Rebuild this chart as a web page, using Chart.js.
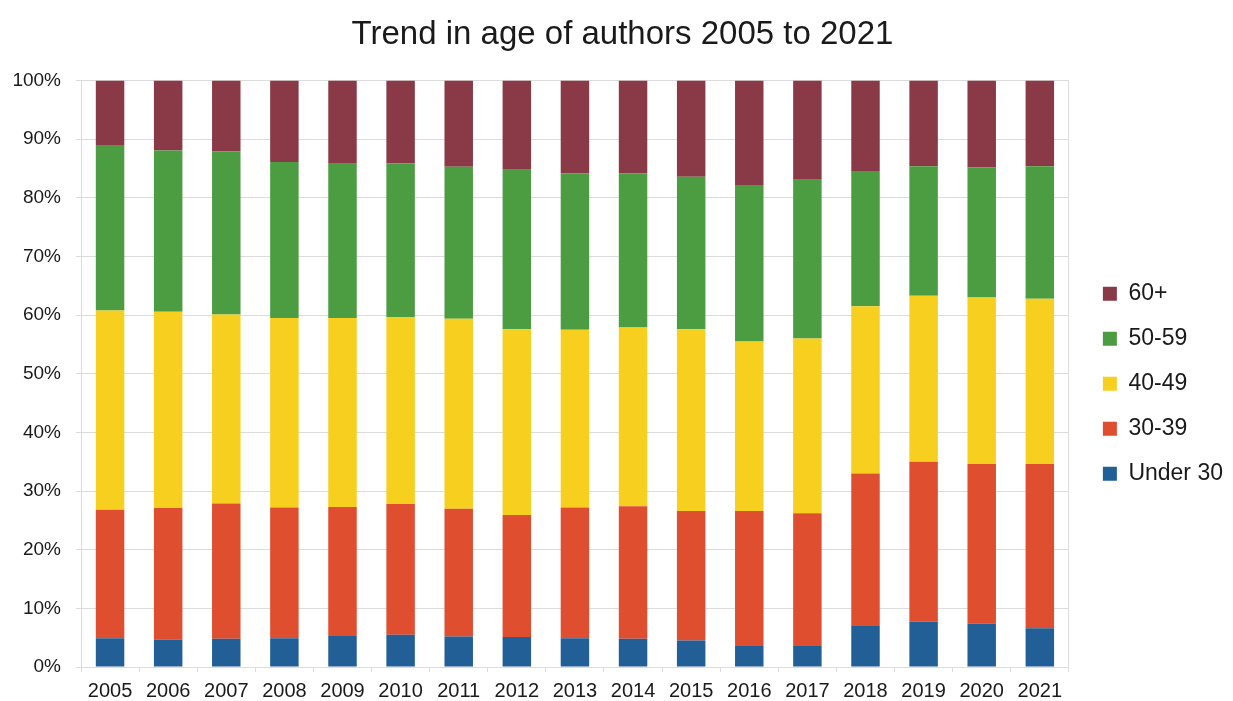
<!DOCTYPE html>
<html>
<head>
<meta charset="utf-8">
<title>Trend in age of authors 2005 to 2021</title>
<script src="https://cdn.jsdelivr.net/npm/chart.js@4.4.1/dist/chart.umd.min.js"></script>
<style>
  html, body { margin: 0; padding: 0; background: #ffffff; }
  #panel-chart { position: relative; width: 1233px; height: 701px; }
</style>
</head>
<body>
<div id="panel-chart"><canvas id="ageChart"></canvas></div>
<script>
// share of authors in each age band, per year (%)
const years = ['2005', '2006', '2007', '2008', '2009', '2010', '2011', '2012', '2013',
               '2014', '2015', '2016', '2017', '2018', '2019', '2020', '2021'];
const under30 = [4.9, 4.7, 4.8, 4.9, 5.3, 5.5, 5.2, 5.1, 4.9, 4.8, 4.5, 3.6, 3.6, 7.0, 7.7, 7.4, 6.6];
const age30to39 = [21.9, 22.4, 23.1, 22.3, 22.0, 22.3, 21.8, 20.8, 22.3, 22.6, 22.1, 23.0, 22.6, 26.0, 27.3, 27.2, 28.0];
const age40to49 = [34.0, 33.5, 32.2, 32.3, 32.2, 31.9, 32.4, 31.7, 30.3, 30.5, 31.0, 28.9, 29.8, 28.5, 28.3, 28.4, 28.2];
const age50to59 = [28.2, 27.5, 27.8, 26.6, 26.3, 26.2, 25.9, 27.2, 26.7, 26.3, 26.0, 26.7, 27.1, 23.1, 22.1, 22.2, 22.6];
const age60plus = [11.0, 11.9, 12.1, 13.9, 14.2, 14.1, 14.7, 15.2, 15.8, 15.8, 16.4, 17.8, 16.9, 15.4, 14.6, 14.8, 14.6];
const yTicks = [0, 10, 20, 30, 40, 50, 60, 70, 80, 90, 100];

const FONT_FAMILY = '"Liberation Sans", Arial, Helvetica, sans-serif';
const GRID_COLOR = '#dcdcdc';
const TEXT_COLOR = '#1a1a1a';

const COLOR_UNDER_30 = '#225f96';
const COLOR_30_39 = '#e04e30';
const COLOR_40_49 = '#f7cf1f';
const COLOR_50_59 = '#4c9c41';
const COLOR_60_PLUS = '#8a3a47';

// fixed axis sizes so the plot area lands in the same place every time
const Y_AXIS_WIDTH = 69;
const X_AXIS_HEIGHT = 34;
const RIGHT_GAP = 12;

var ctx = document.getElementById('ageChart');

function makeDataset(label, values, color) {
  return {
    label: label,
    data: values,
    backgroundColor: color,
    borderWidth: 0,
    categoryPercentage: 1.0,
    barPercentage: 0.49
  };
}

var ageChart = new Chart(ctx, {
  type: 'bar',
  data: {
    labels: years,
    datasets: [
      makeDataset('Under 30', under30, COLOR_UNDER_30),
      makeDataset('30-39', age30to39, COLOR_30_39),
      makeDataset('40-49', age40to49, COLOR_40_49),
      makeDataset('50-59', age50to59, COLOR_50_59),
      makeDataset('60+', age60plus, COLOR_60_PLUS)
    ]
  },
  options: {
    animation: false,
    responsive: true,
    maintainAspectRatio: false,
    layout: {
      padding: { left: 12, right: 0, top: 0, bottom: 0 }
    },
    plugins: {
      title: {
        display: true,
        text: 'Trend in age of authors 2005 to 2021',
        color: TEXT_COLOR,
        font: { family: FONT_FAMILY, size: 33, weight: 'normal' },
        padding: { top: 15, bottom: 26 }
      },
      legend: {
        position: 'right',
        fullSize: false,
        reverse: true,
        // empty title only nudges the items down a little
        title: { display: true, text: '', padding: 4, font: { size: 10 } },
        labels: {
          boxWidth: 14,
          boxHeight: 14,
          padding: 22,
          color: TEXT_COLOR,
          font: { family: FONT_FAMILY, size: 23 }
        }
      },
      tooltip: { enabled: false }
    },
    scales: {
      x: {
        stacked: true,
        afterFit: function(scale) { scale.height = X_AXIS_HEIGHT; },
        grid: {
          offset: true,
          drawOnChartArea: false,
          drawTicks: true,
          tickLength: 5,
          color: GRID_COLOR
        },
        border: { color: GRID_COLOR },
        ticks: {
          padding: 9,
          color: TEXT_COLOR,
          maxRotation: 0,
          autoSkip: false,
          font: { family: FONT_FAMILY, size: 20, lineHeight: 1 }
        }
      },
      y: {
        stacked: true,
        min: 0,
        max: 100,
        afterFit: function(scale) { scale.width = Y_AXIS_WIDTH; },
        afterBuildTicks: function(scale) {
          scale.ticks = yTicks.map(function(v) { return { value: v }; });
        },
        grid: { color: GRID_COLOR, tickLength: 5 },
        border: { color: GRID_COLOR },
        ticks: {
          padding: 15,
          color: TEXT_COLOR,
          font: { family: FONT_FAMILY, size: 19 },
          callback: function(value) { return value + '%'; }
        }
      },
      yRight: {
        position: 'right',
        display: true,
        grid: { drawOnChartArea: false, drawTicks: false },
        border: { color: GRID_COLOR },
        ticks: { display: false },
        afterFit: function(scale) { scale.width = RIGHT_GAP; }
      }
    }
  }
});
</script>
</body>
</html>
